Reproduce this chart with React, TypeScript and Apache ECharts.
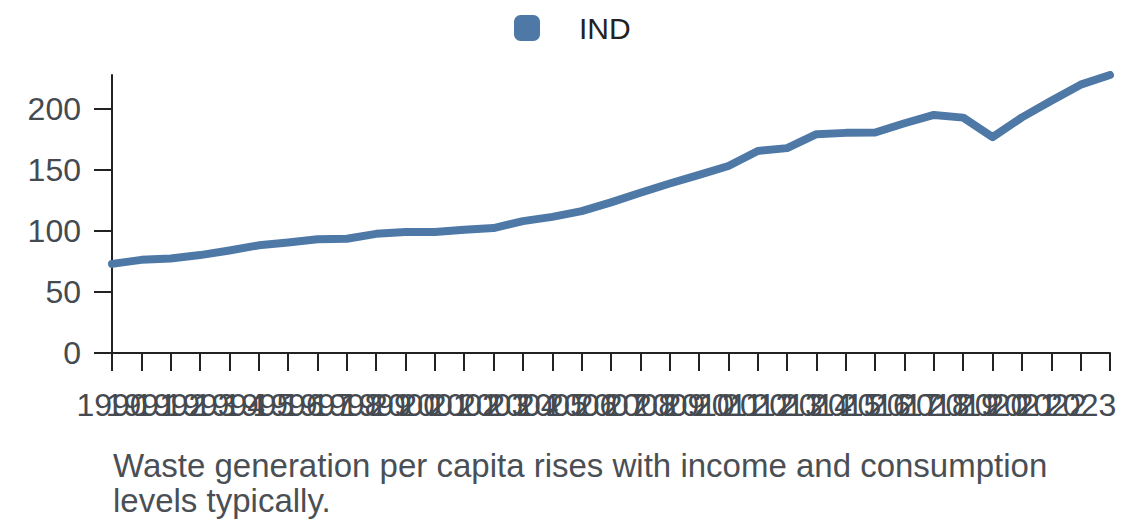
import { useEffect, useRef } from "react";
import * as echarts from "echarts";

const years = [
  "1990", "1991", "1992", "1993", "1994", "1995", "1996", "1997", "1998", "1999",
  "2000", "2001", "2002", "2003", "2004", "2005", "2006", "2007", "2008", "2009",
  "2010", "2011", "2012", "2013", "2014", "2015", "2016", "2017", "2018", "2019",
  "2020", "2021", "2022", "2023", "2024",
];

const indValues = [
  73, 76.3, 77.4, 80.2, 84, 88.2, 90.5, 93.2, 93.6, 97.6,
  99.2, 99.1, 101, 102.3, 108, 111.5, 116.2, 123.4, 131.3, 138.8,
  145.9, 153.2, 165.5, 167.8, 179.2, 180.3, 180.6, 188.2, 195, 192.8,
  176.8, 193, 206.6, 219.8, 227.7,
];

const yTicks = [0, 50, 100, 150, 200];

const caption = "Waste generation per capita rises with income and consumption\nlevels typically.";

const FONT = "'Liberation Sans', Arial, sans-serif";
const LABEL_COLOR = "#454a51";

export default function App() {
  const nodeRef = useRef<HTMLDivElement | null>(null);

  useEffect(() => {
    document.body.style.margin = "0";
    if (!nodeRef.current) return;
    const chart = echarts.init(nodeRef.current, undefined, { renderer: "svg" });
    chart.setOption({
      animation: false,
      textStyle: { fontFamily: FONT },
      legend: {
        top: 13,
        left: 514,
        padding: 0,
        icon: "roundRect",
        itemWidth: 26,
        itemHeight: 26,
        textStyle: { fontSize: 30, color: "#222", padding: [0, 0, 0, 34], fontFamily: FONT },
        data: ["IND"],
      },
      grid: { left: 112, right: 30, top: 75, bottom: 175, containLabel: false },
      xAxis: {
        type: "category",
        data: years,
        boundaryGap: false,
        axisLine: { lineStyle: { color: "#222", width: 2 } },
        axisTick: { interval: 0, length: 18, lineStyle: { color: "#222", width: 2 } },
        axisLabel: {
          interval: 0,
          // the last year carries no label in the original
          formatter: (value: string, index: number) => (index === years.length - 1 ? "" : value),
          fontSize: 32,
          color: LABEL_COLOR,
          margin: 36,
          fontFamily: FONT,
        },
      },
      yAxis: {
        type: "value",
        min: 0,
        max: "dataMax",
        splitLine: { show: false },
        axisLine: { show: true, lineStyle: { color: "#222", width: 2 } },
        axisTick: { show: true, length: 18, customValues: yTicks, lineStyle: { color: "#222", width: 2 } },
        axisLabel: { fontSize: 32, color: LABEL_COLOR, margin: 31, customValues: yTicks, fontFamily: FONT },
      },
      series: [
        {
          name: "IND",
          type: "line",
          data: indValues,
          showSymbol: false,
          symbol: "none",
          lineStyle: { color: "#4e79a7", width: 8, cap: "round", join: "round" },
          itemStyle: { color: "#4e79a7" },
        },
      ],
      graphic: [
        {
          type: "text",
          left: 113,
          top: 448,
          style: {
            text: caption,
            fontSize: 33,
            lineHeight: 35,
            fill: "#4a4f56",
            fontFamily: FONT,
          },
        },
      ],
    });
    return () => chart.dispose();
  }, []);

  return <div ref={nodeRef} style={{ width: 1140, height: 528 }} />;
}
